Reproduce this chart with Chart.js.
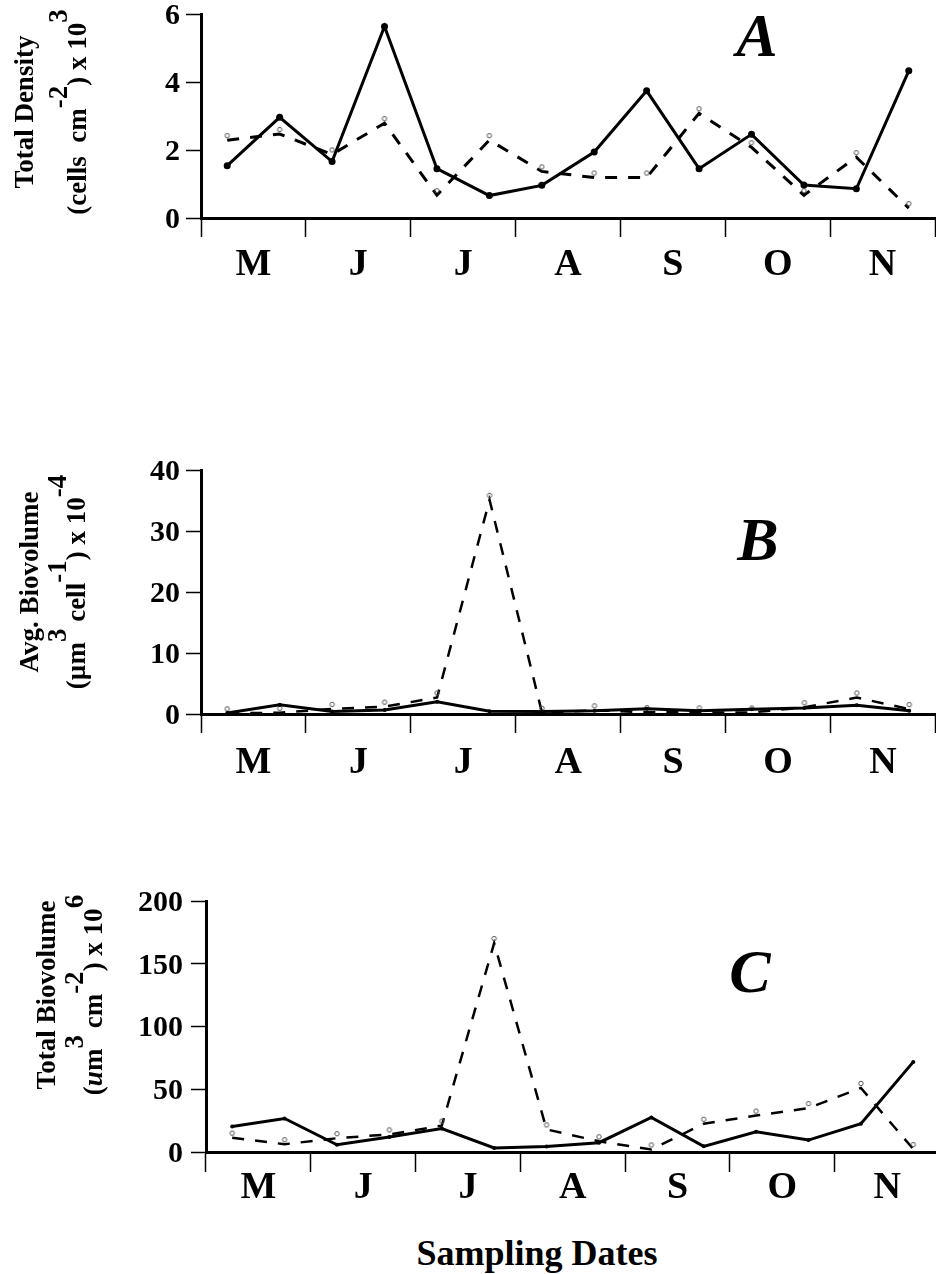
<!DOCTYPE html>
<html><head><meta charset="utf-8">
<script src="https://cdn.jsdelivr.net/npm/chart.js@4/dist/chart.umd.min.js"></script>
<style>
html,body{margin:0;padding:0;background:#fff;overflow:hidden;}
#wrap{position:relative;width:936px;height:1274px;overflow:hidden;background:#fff;}
canvas{position:absolute;left:0;}
.t{position:absolute;white-space:nowrap;font:bold 27px 'Liberation Serif','Times New Roman',serif;line-height:1;transform:translate(-50%,-50%) rotate(-90deg);color:#000;}
.t sup{font-size:1em;vertical-align:baseline;position:relative;top:-0.7em;}
.t i{font-style:italic;}
.L{position:absolute;font:italic bold 62px 'Liberation Serif','Times New Roman',serif;line-height:1;transform:translate(-50%,-50%);color:#000;}
.xt{position:absolute;font:bold 36px 'Liberation Serif','Times New Roman',serif;line-height:1;transform:translate(-50%,-50%);white-space:nowrap;color:#000;}
</style></head>
<body><div id="wrap">
<canvas id="cA" width="942" height="318" style="top:-20px"></canvas>
<canvas id="cB" width="942" height="364" style="top:430px"></canvas>
<canvas id="cC" width="946" height="372" style="top:860px"></canvas>

<div class="t" style="left:24px;top:112px">Total Density</div>
<div class="t" style="left:77px;top:112px">(cells&nbsp;&nbsp;cm<sup>-2</sup>) x 10<sup>3</sup></div>
<div class="t" style="left:29px;top:582px">Avg. Biovolume</div>
<div class="t" style="left:76px;top:582px">(µm<sup>3</sup> cell<sup>-1</sup>) x 10<sup>-4</sup></div>
<div class="t" style="left:46px;top:995px">Total Biovolume</div>
<div class="t" style="left:93px;top:995px">(<i>u</i>m<sup>3</sup> cm<sup>-2</sup>) x 10<sup>6</sup></div>

<div class="L" style="left:757px;top:35px">A</div>
<div class="L" style="left:758px;top:539px">B</div>
<div class="L" style="left:750px;top:971px">C</div>
<div class="xt" style="left:537px;top:1253px">Sampling Dates</div>
</div>
<script>
// ---- data ----
const months = ['M','J','J','A','S','O','N'];
const samplingDates = ['May-1','May-2','Jun-1','Jun-2','Jul-1','Jul-2','Aug-1','Aug-2','Sep-1','Sep-2','Oct-1','Oct-2','Nov-1','Nov-2'];
const densitySolid  = [1.54,2.96,1.66,5.63,1.45,0.66,0.96,1.94,3.74,1.45,2.46,0.97,0.86,4.33];
const densityDashed = [2.29,2.47,1.87,2.79,0.67,2.29,1.37,1.19,1.19,3.08,2.08,0.67,1.79,0.29];
const avgBioSolid   = [0.17,1.5,0.43,0.66,2.0,0.45,0.43,0.55,0.88,0.55,0.77,1.0,1.43,0.55];
const avgBioDashed  = [0.1,0.2,0.85,1.2,2.7,35.1,0.2,0.6,0.3,0.25,0.25,1.1,2.7,0.8];
const totBioSolid   = [20.3,26.7,5.8,11.9,18.7,3.2,4.4,7.4,27.5,4.5,16.1,9.5,22.6,71.8];
const totBioDashed  = [11.4,6.2,11,14,21,166.5,18,8.5,2,22.5,29,35,51,2.3];
const yTicksA = {max:6, step:1, labelEvery:2};
const yTicksB = {max:40, step:5, labelEvery:10};
const yTicksC = {max:200, step:25, labelEvery:50};

const FAM = "'Liberation Serif','Times New Roman',serif";

function openMarker(){
  const c=document.createElement('canvas'); c.width=8; c.height=18;
  const g=c.getContext('2d'); g.strokeStyle='#555'; g.lineWidth=1;
  g.beginPath(); g.arc(4,4.5,2.2,0,Math.PI*2); g.stroke(); return c;
}
const OPEN = openMarker();

function panel(id, solid, dashed, yt, o){
  new Chart(document.getElementById(id), {
    type:'line',
    data:{ labels: samplingDates, datasets:[
      {data:solid, borderColor:'#000', borderWidth:3, pointRadius:o.dot, pointBackgroundColor:'#000', pointBorderWidth:0, tension:0, xAxisID:'x', yAxisID:'y'},
      {data:dashed, borderColor:'#000', borderWidth:o.dw, borderDash:[12,11], pointStyle:OPEN, pointRadius:4, tension:0, xAxisID:'x', yAxisID:'y'}
    ]},
    options:{
      responsive:false, animation:false, devicePixelRatio:1,
      layout:{padding:{top:o.top, left:0, right:0, bottom:0}},
      plugins:{legend:{display:false}, tooltip:{enabled:false}},
      scales:{
        x:{type:'category', offset:true, display:false},
        xm:{type:'category', labels:months, offset:true, position:'bottom',
          grid:{offset:true, drawOnChartArea:false, tickLength:o.xtl, tickWidth:1.5, tickColor:'#000'},
          border:{width:3, color:'#000'},
          ticks:{font:{family:FAM, size:38, weight:'bold'}, color:'#000', padding:o.xpad, maxRotation:0, autoSkip:false},
          afterFit:s=>{s.height=80;}
        },
        y:{type:'linear', min:0, max:yt.max, position:'left',
          grid:{drawOnChartArea:false, tickLength:15, tickWidth:1.5, tickColor:'#000',
            tickBorderDash:(c)=> (c.tick && c.tick.value % yt.labelEvery === 0) ? [] : [0,7,8,100]},
          border:{width:3, color:'#000'},
          ticks:{stepSize:yt.step, font:{family:FAM, size:30, weight:'bold'}, color:'#000', padding:o.ypad, labelOffset:2,
            callback:v=> (v % yt.labelEvery === 0) ? String(v) : ''},
          afterFit:s=>{s.width=o.yw;}
        }
      }
    }
  });
}
panel('cA', densitySolid, densityDashed, yTicksA, {top:34, yw:201, dot:3.5, dw:3, xtl:19, xpad:5, ypad:6});
panel('cB', avgBioSolid, avgBioDashed, yTicksB, {top:40, yw:201, dot:2, dw:2.5, xtl:19, xpad:7, ypad:6});
panel('cC', totBioSolid, totBioDashed, yTicksC, {top:41, yw:206, dot:2, dw:2.5, xtl:20, xpad:-7, ypad:8});
</script>
</body></html>
